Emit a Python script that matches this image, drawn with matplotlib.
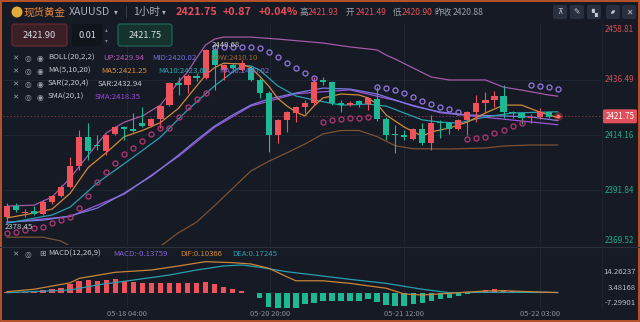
import matplotlib
matplotlib.use('Agg')
import matplotlib.pyplot as plt
from matplotlib.patches import FancyBboxPatch, Rectangle, Ellipse
import numpy as np

plt.rcParams['font.family'] = ['Noto Sans CJK SC', 'DejaVu Sans']

# ---- candles (1h XAUUSD) ----
opens = [2380.9, 2385.5, 2382.5, 2383.5, 2382.1, 2386.9, 2389.4, 2393.0, 2401.6, 2413.3,
         2409.9, 2407.7, 2414.6, 2417.4, 2416.4, 2418.9, 2417.9, 2420.5, 2426.3, 2435.4,
         2434.5, 2438.1, 2437.5, 2448.5, 2440.6, 2442.6, 2440.6, 2441.5, 2436.5, 2431.2,
         2414.2, 2420.2, 2423.1, 2425.5, 2427.1, 2436.3, 2435.7, 2427.1, 2426.5, 2427.8,
         2426.7, 2428.8, 2420.7, 2414.4, 2414.0, 2412.5, 2416.6, 2410.9, 2419.5, 2419.0,
         2416.6, 2420.2, 2423.5, 2427.1, 2428.4, 2430.0, 2423.5, 2423.1, 2421.1, 2421.5,
         2423.5, 2421.49]
highs = [2386.6, 2386.6, 2384.0, 2385.3, 2387.6, 2389.8, 2393.9, 2405.2, 2416.2, 2419.0,
         2414.2, 2414.6, 2418.0, 2417.8, 2423.1, 2425.5, 2421.0, 2426.5, 2435.5, 2437.8,
         2438.8, 2439.5, 2449.2, 2449.68, 2443.0, 2443.2, 2444.6, 2442.2, 2437.5, 2432.0,
         2420.8, 2423.9, 2426.0, 2428.4, 2437.7, 2437.7, 2436.2, 2428.4, 2428.0, 2428.4,
         2429.5, 2433.6, 2421.5, 2418.2, 2416.2, 2417.0, 2419.0, 2422.3, 2420.2, 2419.5,
         2420.7, 2423.8, 2430.4, 2431.6, 2432.0, 2434.5, 2424.0, 2423.5, 2422.5, 2425.1,
         2424.0, 2421.93]
lows = [2378.45, 2382.9, 2381.0, 2381.6, 2381.5, 2386.0, 2389.0, 2392.5, 2400.0, 2404.0,
        2408.1, 2406.0, 2414.0, 2412.1, 2415.3, 2417.5, 2417.5, 2417.0, 2425.8, 2430.4,
        2431.1, 2436.0, 2437.0, 2432.4, 2436.5, 2440.5, 2440.0, 2436.0, 2429.2, 2407.3,
        2410.9, 2415.4, 2419.4, 2423.1, 2426.5, 2434.5, 2426.5, 2423.5, 2426.0, 2425.5,
        2424.3, 2420.0, 2412.1, 2406.9, 2412.1, 2412.0, 2410.1, 2408.1, 2413.0, 2414.5,
        2416.0, 2414.2, 2419.4, 2423.5, 2425.5, 2421.0, 2421.0, 2418.6, 2419.0, 2420.5,
        2421.0, 2420.90]
closes = [2385.5, 2383.8, 2382.9, 2382.1, 2386.9, 2389.4, 2393.0, 2401.6, 2413.3, 2407.7,
          2409.6, 2414.2, 2417.4, 2416.6, 2415.8, 2417.9, 2420.5, 2426.1, 2435.1, 2434.5,
          2438.1, 2437.5, 2448.5, 2442.6, 2442.6, 2441.5, 2443.4, 2436.5, 2431.2, 2414.2,
          2420.2, 2423.5, 2425.5, 2427.1, 2435.7, 2435.5, 2427.1, 2426.5, 2427.3, 2426.7,
          2429.2, 2420.7, 2414.2, 2414.0, 2413.2, 2416.6, 2410.9, 2419.0, 2419.2, 2416.6,
          2420.2, 2423.5, 2427.1, 2428.4, 2430.0, 2423.5, 2423.1, 2421.1, 2421.4, 2423.5,
          2421.5, 2421.75]

# ---- indicator lines (sampled at candle index) ----
up_x = [0, 3, 5, 7, 9, 11, 13, 15, 17, 19, 20, 21, 22, 23, 24, 27, 30, 35, 38, 41, 42, 43, 47, 49, 53, 55, 57, 60, 61]
up_v = [2385.3, 2385.7, 2389.0, 2396.7, 2406.0, 2415.0, 2419.4, 2421.9, 2426.3, 2435.7, 2439.7, 2445.4, 2450.7,
        2453.1, 2453.9, 2453.9, 2453.1, 2451.5, 2449.9, 2448.7, 2446.6, 2445.0, 2437.7, 2436.5, 2436.5, 2433.6,
        2432.4, 2430.4, 2429.94]
mid_x = [0, 4, 7, 10, 13, 16, 19, 21, 23, 25, 27, 29, 32, 35, 38, 41, 43, 45, 48, 51, 55, 58, 61]
mid_v = [2378.8, 2379.6, 2381.3, 2384.5, 2390.6, 2397.5, 2406.0, 2412.1, 2417.8, 2422.3, 2426.3, 2428.8,
         2431.2, 2433.2, 2432.8, 2430.8, 2428.4, 2425.9, 2423.5, 2422.3, 2421.9, 2421.5, 2420.02]
low_x = [0, 4, 6, 7, 9, 12, 15, 16, 17, 19, 21, 23, 25, 27, 29, 31, 33, 35, 37, 39, 41, 43, 45, 49, 53, 55, 58, 61]
low_v = [2372.7, 2372.7, 2371.1, 2369.0, 2362.0, 2356.0, 2360.0, 2364.5, 2369.0, 2374.5, 2378.8, 2385.5,
         2392.5, 2399.5, 2403.5, 2406.9, 2410.5, 2414.6, 2416.0, 2416.0, 2413.5, 2409.8, 2408.6, 2408.5,
         2408.9, 2409.7, 2410.1, 2410.10]
ma5_x = [0, 3, 5, 7, 9, 11, 13, 15, 17, 19, 20, 21, 22, 23, 24, 26, 27, 28, 29, 30, 31, 32, 33, 34, 35,
         37, 39, 40, 41, 42, 44, 46, 47, 49, 51, 53, 55, 57, 59, 61]
ma5_v = [2380.5, 2382.5, 2384.1, 2390.5, 2401.0, 2407.0, 2413.5, 2416.0, 2419.2, 2425.0, 2429.5, 2434.0,
         2438.5, 2441.5, 2443.3, 2443.0, 2441.5, 2438.0, 2434.0, 2429.0, 2426.0, 2423.5, 2421.9, 2425.9,
         2429.2, 2430.8, 2430.4, 2429.2, 2426.7, 2422.3, 2417.4, 2413.7, 2415.4, 2417.0, 2419.4, 2423.1,
         2426.3, 2426.3, 2423.5, 2421.25]
ma10_x = [0, 5, 7, 10, 14, 17, 20, 23, 25, 26, 27, 28, 30, 32, 34, 37, 40, 42, 44, 46, 48, 50, 53, 56, 61]
ma10_v = [2378.4, 2381.7, 2384.9, 2394.7, 2405.2, 2413.3, 2424.3, 2434.1, 2439.7, 2442.2, 2442.2, 2440.5,
          2434.1, 2430.0, 2428.4, 2426.3, 2426.7, 2425.9, 2423.1, 2420.3, 2419.4, 2419.0, 2421.5, 2423.1,
          2423.60]
sma_x = [0, 7, 13, 19, 23, 27, 32, 38, 43, 48, 55, 61]
sma_v = [2378.7, 2381.1, 2390.2, 2405.5, 2417.3, 2425.9, 2430.9, 2432.5, 2428.2, 2423.2, 2420.6, 2418.35]
sar = [2374.4, 2374.8, 2375.6, 2376.4, 2376.8, 2378.4, 2379.7, 2380.9, 2384.5, 2389.4,
       2395.1, 2399.1, 2402.8, 2406.5, 2408.9, 2411.7, 2414.6, 2417.0, 2417.0, 2421.5,
       2425.5, 2428.8, 2431.2, 2449.7, 2449.7, 2449.7, 2449.7, 2449.7, 2449.5, 2447.9,
       2445.8, 2443.4, 2441.4, 2439.3, 2437.3, 2419.4, 2420.3, 2420.7, 2421.1, 2421.1,
       2421.5, 2433.6, 2433.2, 2432.4, 2431.2, 2429.6, 2428.0, 2426.7, 2425.5, 2424.7,
       2423.5, 2412.5, 2412.9, 2413.3, 2415.0, 2416.2, 2417.8, 2419.0, 2434.5, 2434.1,
       2433.6, 2432.94]

# ---- MACD pane ----
hist = [0.7, 0.7, 0.7, 1.2, 1.6, 2.3, 3.5, 5.8, 8.1, 8.8,
        8.1, 8.8, 9.3, 8.1, 7.4, 6.5, 6.5, 6.9, 6.9, 6.9,
        6.9, 6.9, 7.4, 5.8, 4.2, 2.3, 1.2, -0.3, -4.0, -10.0,
        -10.4, -10.4, -10.4, -7.6, -7.0, -5.8, -5.8, -5.8, -5.8, -5.8,
        -4.6, -6.2, -8.8, -9.3, -9.3, -8.1, -6.9, -5.8, -4.2, -3.5,
        -2.3, -0.7, 0.7, 1.9, 2.8, 1.6, 1.2, 0.5, 0.3, 0.3,
        -0.3, -0.14]
dif_x = [0, 3, 7, 8, 12, 16, 19, 22, 25, 27, 29, 31, 32, 35, 38, 42, 44, 46, 49, 53, 55, 58, 61]
dif_v = [0.7, 2.4, 6.9, 10.0, 14.2, 15.8, 18.6, 21.6, 20.9, 20.0, 17.0, 11.1, 8.3, 8.3, 6.5, 3.1,
         -0.9, -1.6, -0.4, 1.2, 1.4, 0.7, 0.10]
dea_x = [0, 7, 10, 14, 18, 21, 24, 26, 28, 31, 35, 38, 42, 46, 49, 53, 61]
dea_v = [0.0, 1.9, 5.4, 8.8, 12.3, 15.8, 18.6, 19.3, 17.7, 14.6, 11.6, 9.3, 6.5, 2.4, 0.0, 0.3, 0.17]

time_ticks = [13.3, 29.1, 44.0, 59.0]
time_labels = ['05-18 04:00', '05-20 20:00', '05-21 12:00', '05-22 03:00']
price_ticks = [2458.81, 2436.49, 2414.16, 2391.84, 2369.52]
macd_ticks = [14.26237, 3.48168, -7.29901]
last_price = 2421.75

BG = '#151a24'
GRID = '#222937'
RED = '#f0525b'
GREEN = '#1fb894'
TXT = '#9aa0ab'

W, H = 640, 322
fig = plt.figure(figsize=(6.4, 3.22), dpi=100)
fig.patch.set_facecolor(BG)


def rect(x0, y0, x1, y1):
    return [x0 / W, 1 - y1 / H, (x1 - x0) / W, (y1 - y0) / H]


ax = fig.add_axes(rect(3, 25, 601, 245))
mx = fig.add_axes(rect(3, 247, 601, 308))
for a in (ax, mx):
    a.set_facecolor(BG)
    for s in a.spines.values():
        s.set_visible(False)
    a.set_xticks([])
    a.set_yticks([])
    a.set_xlim(-0.44, 65.8)
    for t in time_ticks:
        a.axvline(t, color=GRID, lw=0.6, zorder=0)

ax.set_ylim(2369.52, 2458.81)
mx.set_ylim(-10.64, 31.8)
for p in price_ticks[1:-1]:
    ax.axhline(p, color=GRID, lw=0.6, zorder=0)

# indicator lines
ax.plot(low_x, low_v, color='#7d5233', lw=0.9, zorder=2)
ax.plot(up_x, up_v, color='#a45aa8', lw=0.9, zorder=2)
ax.plot(sma_x, sma_v, color='#9b55d8', lw=0.9, zorder=2)
ax.plot(mid_x, mid_v, color='#7d78e0', lw=0.9, zorder=2)
ax.plot(ma10_x, ma10_v, color='#2a9fae', lw=0.9, zorder=2)
ax.plot(ma5_x, ma5_v, color='#d08a3c', lw=0.9, zorder=2)

# candles
idx = np.arange(len(closes))
o = np.array(opens)
c = np.array(closes)
cols = np.where(c >= o, RED, GREEN)
ax.vlines(idx, lows, highs, colors=cols, lw=0.8, zorder=3)
ax.bar(idx, np.maximum(np.abs(c - o), 0.35), bottom=np.minimum(o, c), width=0.68,
       color=cols, lw=0, zorder=4)

# SAR dots
sar = np.array(sar)
below = sar < c
ax.plot(idx[below], sar[below], 'o', ms=3.6, mfc='none', mec='#a8356f', mew=1.0, zorder=5)
ax.plot(idx[~below], sar[~below], 'o', ms=3.6, mfc='none', mec='#8a70d2', mew=1.0, zorder=5)

ax.axhline(last_price, color='#7a3542', lw=0.7, ls=(0, (1.5, 2)), zorder=1)
ax.scatter([idx[-1]], [last_price], s=40, color='#ff5a5a', alpha=0.3, lw=0, zorder=6)
ax.scatter([idx[-1]], [last_price], s=8, color='#ff6a6a', lw=0, zorder=6)

hi = int(np.argmax(highs))
lo = int(np.argmin(lows))
ax.text(hi - 0.3, highs[hi] + 0.9, '%.2f' % highs[hi], color='#c9ccd2', fontsize=5.6, va='center', zorder=7)
ax.text(lo - 0.3, lows[lo] - 1.6, '%.2f' % lows[lo], color='#c9ccd2', fontsize=5.6, va='center', zorder=7)

# MACD
hist = np.array(hist)
mx.bar(idx, hist, width=0.6, color=np.where(hist >= 0, RED, GREEN), lw=0, zorder=2)
mx.plot(dea_x, dea_v, color='#2a9fae', lw=0.9, zorder=3)
mx.plot(dif_x, dif_v, color='#c9843c', lw=0.9, zorder=3)

# ---- overlay in pixel coordinates ----
ov = fig.add_axes([0, 0, 1, 1])
ov.set_xlim(0, W)
ov.set_ylim(H, 0)
ov.axis('off')
ov.patch.set_alpha(0)


def T(x, y, s, **kw):
    kw.setdefault('va', 'center')
    kw.setdefault('fontsize', 5.6)
    kw.setdefault('color', TXT)
    ov.text(x, y, s, **kw)


def rbox(x0, y0, x1, y1, fc, ec='none', r=2.5):
    ov.add_patch(FancyBboxPatch((x0, y0), x1 - x0, y1 - y0, boxstyle='round,pad=0,rounding_size=%s' % r,
                                fc=fc, ec=ec, lw=0.8))


ov.plot([0, W], [246.5, 246.5], color='#2a303d', lw=0.8)
ov.plot([602, 602], [22, 308], color='#1f2532', lw=0.6)

# header
ov.add_patch(Ellipse((17, 12), 11, 11, fc='#e3aa3c', ec='none'))
T(24, 12, '现货黄金', fontsize=7.6, color='#e9873a')
T(69, 12, 'XAUUSD', fontsize=7.6, color='#aab0bb')
T(114, 12, '▾', fontsize=5.5, color='#aab0bb')
T(125, 12, '|', fontsize=7, color='#4a505c')
T(133, 12, '1小时', fontsize=7.6, color='#aab0bb')
T(162, 12, '▾', fontsize=5.5, color='#aab0bb')
T(176, 12, '2421.75', fontsize=7.8, color='#ea4d59', fontweight='bold')
T(223, 12, '+0.87', fontsize=7.8, color='#ea4d59', fontweight='bold')
T(259, 12, '+0.04%', fontsize=7.8, color='#ea4d59', fontweight='bold')
T(299, 12, '高', fontsize=6.2)
T(308, 12, '2421.93', fontsize=6.2, color='#e0505a')
T(346, 12, '开', fontsize=6.2)
T(356, 12, '2421.49', fontsize=6.2, color='#e0505a')
T(393, 12, '低', fontsize=6.2)
T(402, 12, '2420.90', fontsize=6.2, color='#e0505a')
T(434, 12, '昨收', fontsize=6.2)
T(453, 12, '2420.88', fontsize=6.2)
for x0, g in [(553, '⊼'), (570, '✎'), (587, '▚'), (606, ''), (622, '✕')]:
    rbox(x0, 5, x0 + 14, 19, '#283040', r=2)
    if g:
        T(x0 + 7, 12, g, ha='center', fontsize=5.5, color='#c5cad3', family=['DejaVu Sans'])
# expand icon: double diagonal arrow
ov.annotate('', xy=(617, 8), xytext=(609, 16),
            arrowprops=dict(arrowstyle='<|-|>', color='#c5cad3', lw=0.7, mutation_scale=3.5))

# order boxes
rbox(12, 24, 67, 46, '#3a1f27', '#6e2a34')
T(39.5, 35, '2421.90', ha='center', fontsize=6.6, color='#d8dbe0')
rbox(72, 24, 102, 46, '#10141b')
T(87, 35, '0.01', ha='center', fontsize=6.6, color='#d8dbe0')
T(106, 30, '▴', ha='center', fontsize=4, color='#7d8390')
T(106, 41, '▾', ha='center', fontsize=4, color='#7d8390')
rbox(118, 24, 172, 46, '#15332e', '#1e6e5a')
T(145, 35, '2421.75', ha='center', fontsize=6.6, color='#d8dbe0')

# indicator legends
rows = [
    (58, 'BOLL(20,2,2)', [(103, 'UP:2429.94', '#b05cb4'), (152, 'MID:2420.02', '#6f6fdc'), (210, 'LOW:2410.10', '#9a6536')]),
    (71, 'MA(5,10,20)', [(101, 'MA5:2421.25', '#e08e32'), (158, 'MA10:2423.60', '#26a8b5'), (219, 'MA20:2420.02', '#7d70dc')]),
    (84, 'SAR(2,20,4)', [(98, 'SAR:2432.94', '#c5c9d0')]),
    (97, 'SMA(20,1)', [(95, 'SMA:2418.35', '#9a45dc')]),
]
for y, name, vals in rows:
    T(15, y, '✕', ha='center', fontsize=5.4, family=['DejaVu Sans'])
    T(28, y, '◎', ha='center', fontsize=5.6, family=['DejaVu Sans'])
    T(40, y, '◉', ha='center', fontsize=5.6, family=['DejaVu Sans'])
    T(48, y, name, color='#c5c9d0')
    for x, s, col in vals:
        T(x, y, s, color=col)

T(15, 254, '✕', ha='center', fontsize=5.4, family=['DejaVu Sans'])
T(28, 254, '◎', ha='center', fontsize=5.6, family=['DejaVu Sans'])
T(43, 254, '⊞', ha='center', fontsize=5.8, family=['DejaVu Sans'])
T(48, 254, 'MACD(12,26,9)', color='#c5c9d0')
T(113, 254, 'MACD:-0.13759', color='#8a62d8')
T(180, 254, 'DIF:0.10366', color='#d08a3c')
T(232, 254, 'DEA:0.17245', color='#2aa3b3')

# price axis labels
ylo, yhi = ax.get_ylim()
for p in price_ticks:
    y = 245 - (p - ylo) / (yhi - ylo) * 220
    y = min(max(y, 29), 240)
    T(605, y, '%.2f' % p, color='#d04f5a' if p > last_price else '#1fa98b', fontsize=5.8)
ycur = 245 - (last_price - ylo) / (yhi - ylo) * 220
rbox(603, ycur - 7, 637, ycur + 7, '#e0505a', r=1.5)
T(620, ycur, '%.2f' % last_price, ha='center', color='white', fontsize=5.8)

mlo, mhi = mx.get_ylim()
for v in macd_ticks:
    y = 308 - (v - mlo) / (mhi - mlo) * 61
    T(636, y, '%.5f' % v, ha='right', color='#b8bcc4', fontsize=5.6)

# time axis labels
xlo, xhi = mx.get_xlim()
for t, s in zip(time_ticks, time_labels):
    x = 3 + (t - xlo) / (xhi - xlo) * 598
    T(x, 314, s, ha='center', color='#8a909b', fontsize=5.4)

ov.add_patch(Rectangle((0.7, 0.7), W - 1.4, H - 1.4, fill=False, ec='#c4582b', lw=1.3))

fig.savefig('out.png', dpi=100, facecolor=BG)
